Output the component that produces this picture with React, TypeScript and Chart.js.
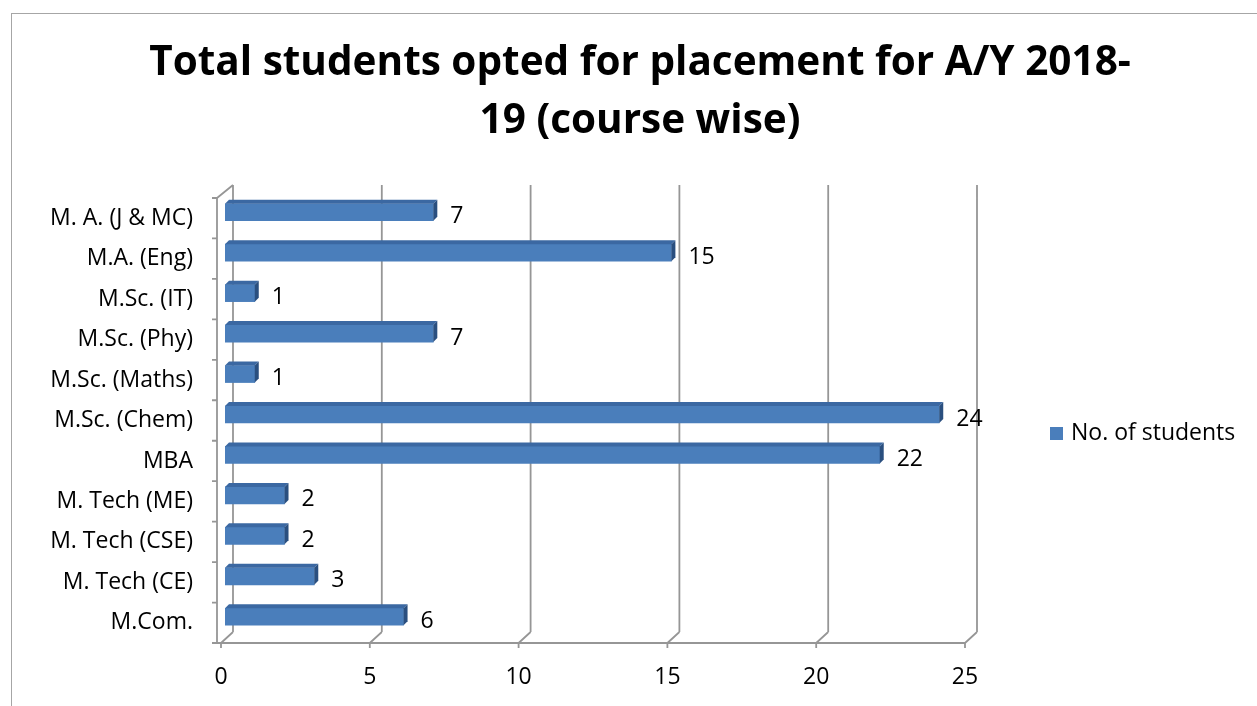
import React, { useEffect, useRef } from 'react';
import { Chart, registerables } from 'chart.js';

Chart.register(...registerables);

const categories = [
  'M. A. (J & MC)',
  'M.A. (Eng)',
  'M.Sc. (IT)',
  'M.Sc. (Phy)',
  'M.Sc. (Maths)',
  'M.Sc. (Chem)',
  'MBA',
  'M. Tech (ME)',
  'M. Tech (CSE)',
  'M. Tech (CE)',
  'M.Com.',
];
const students = [7, 15, 1, 7, 1, 24, 22, 2, 2, 3, 6];
const seriesLabel = 'No. of students';
const titleLines = ['Total students opted for placement for A/Y 2018-', '19 (course wise)'];
const xMin = 0;
const xMax = 25;
const xStep = 5;

const FONT = '"Open Sans", "Noto Sans", sans-serif';
const BAR = '#4a7ebb';
const BAR_TOP = '#3b68a2';
const BAR_SIDE = '#2a4f7f';
const GRID = '#969696';
const DEPTH = 12;
const BAR_DX = 4;
const BAR_DY = -6;
const BAR_D = 4;

const excel3d = {
  id: 'excel3d',
  beforeDatasetsDraw(chart: any) {
    const { ctx, chartArea: a } = chart;
    const xs = chart.scales.x;
    ctx.save();
    // outer border
    ctx.strokeStyle = '#a6a6a6';
    ctx.lineWidth = 1;
    ctx.strokeRect(11.5, 13.5, 1400, 900);

    ctx.strokeStyle = GRID;
    ctx.lineWidth = 1.8;
    const backTop = a.top - DEPTH - 1;
    const backBottom = a.bottom - DEPTH + 1;
    ctx.beginPath();
    for (let v = xMin; v <= xMax; v += xStep) {
      const xf = xs.getPixelForValue(v);
      const xb = xf + DEPTH;
      ctx.moveTo(xb, backTop);
      ctx.lineTo(xb, backBottom);
      ctx.moveTo(xf, a.bottom);
      ctx.lineTo(xb, backBottom);
      ctx.moveTo(xf, a.bottom);
      ctx.lineTo(xf, a.bottom + 5);
    }
    const leftX = a.left - 4;
    // front bottom axis
    ctx.moveTo(leftX, a.bottom);
    ctx.lineTo(xs.getPixelForValue(xMax), a.bottom);
    // left front axis
    ctx.moveTo(leftX, a.top);
    ctx.lineTo(leftX, a.bottom);
    ctx.moveTo(leftX, a.top);
    ctx.lineTo(xs.getPixelForValue(xMin) + DEPTH, backTop);
    // category ticks
    const n = categories.length;
    for (let k = 0; k <= n; k++) {
      const y = a.top + (k * (a.bottom - a.top)) / n;
      ctx.moveTo(leftX - 5, y);
      ctx.lineTo(leftX, y);
    }
    ctx.stroke();
    ctx.restore();

    ctx.save();
    ctx.translate(BAR_DX, BAR_DY);
  },
  afterDatasetsDraw(chart: any) {
    const { ctx } = chart;
    const meta = chart.getDatasetMeta(0);
    meta.data.forEach((bar: any, i: number) => {
      const { x, y, base, height } = bar.getProps(['x', 'y', 'base', 'height'], true);
      const top = y - height / 2;
      const bottom = y + height / 2;
      ctx.fillStyle = BAR_TOP;
      ctx.beginPath();
      ctx.moveTo(base, top);
      ctx.lineTo(base + BAR_D, top - BAR_D);
      ctx.lineTo(x + BAR_D, top - BAR_D);
      ctx.lineTo(x, top);
      ctx.closePath();
      ctx.fill();
      ctx.fillStyle = BAR_SIDE;
      ctx.beginPath();
      ctx.moveTo(x, top);
      ctx.lineTo(x + BAR_D, top - BAR_D);
      ctx.lineTo(x + BAR_D, bottom - BAR_D);
      ctx.lineTo(x, bottom);
      ctx.closePath();
      ctx.fill();

      ctx.fillStyle = '#000';
      ctx.font = `23px ${FONT}`;
      ctx.textAlign = 'left';
      ctx.textBaseline = 'alphabetic';
      ctx.fillText(String(students[i]), x + 17, y + 11);
    });
    ctx.restore();
  },
  afterDraw(chart: any) {
    const { ctx } = chart;
    ctx.save();
    ctx.fillStyle = '#000';
    ctx.font = `bold 40.5px ${FONT}`;
    ctx.textAlign = 'center';
    ctx.textBaseline = 'alphabetic';
    ctx.fillText(titleLines[0], 640, 75);
    ctx.fillText(titleLines[1], 640, 133);

    // legend
    ctx.fillStyle = BAR;
    ctx.fillRect(1050, 427, 13, 13);
    ctx.fillStyle = '#000';
    ctx.font = `23px ${FONT}`;
    ctx.textAlign = 'left';
    ctx.fillText(seriesLabel, 1071, 440);
    ctx.restore();
  },
};

export default function App() {
  const ref = useRef<HTMLCanvasElement | null>(null);
  useEffect(() => {
    if (!ref.current) return;
    const chart = new Chart(ref.current, {
      type: 'bar',
      data: {
        labels: categories,
        datasets: [
          {
            label: seriesLabel,
            data: students,
            backgroundColor: BAR,
            borderWidth: 0,
            barThickness: 17,
          },
        ],
      },
      options: {
        indexAxis: 'y',
        responsive: false,
        animation: false,
        layout: { padding: { left: 12, right: 292, top: 198, bottom: 13 } },
        plugins: {
          legend: { display: false },
          title: { display: false },
          tooltip: { enabled: false },
        },
        scales: {
          x: {
            min: xMin,
            max: xMax,
            ticks: { stepSize: xStep, color: '#000', font: { family: FONT, size: 23 }, padding: 21 },
            grid: { display: false, drawTicks: false, tickLength: 0 },
            border: { display: false },
            afterFit: (s: any) => {
              s.height = 50;
            },
          },
          y: {
            ticks: { color: '#000', font: { family: FONT, size: 23 }, padding: 28, autoSkip: false },
            grid: { display: false, drawTicks: false, tickLength: 0 },
            border: { display: false },
            afterFit: (s: any) => {
              s.width = 209;
            },
          },
        },
      },
      plugins: [excel3d],
    } as any);
    return () => chart.destroy();
  }, []);
  return (
    <div style={{ position: 'fixed', left: 0, top: 0, width: 1257, height: 706, background: '#fff' }}>
      <canvas ref={ref} width={1257} height={706} style={{ display: 'block' }} />
    </div>
  );
}
